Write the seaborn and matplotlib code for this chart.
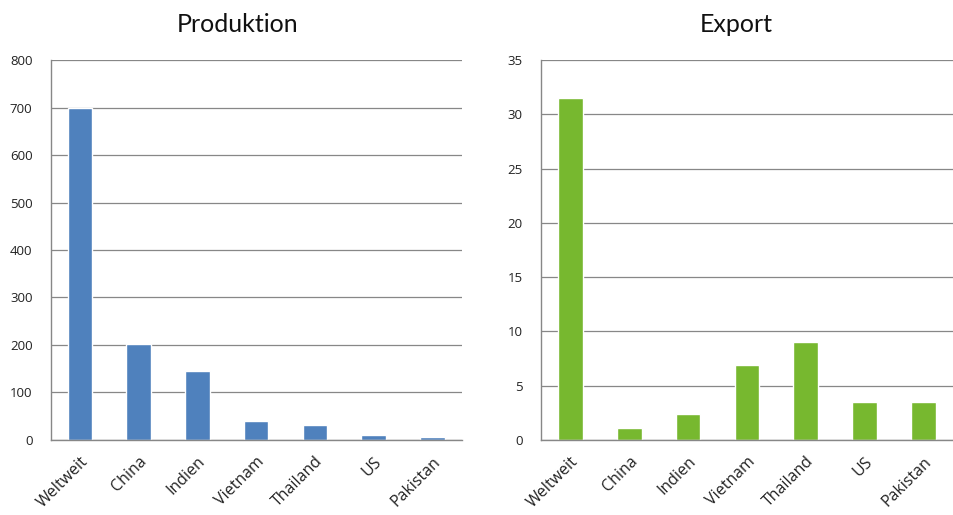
import matplotlib
matplotlib.use("Agg")
import matplotlib.pyplot as plt
import numpy as np
import pandas as pd
import seaborn as sns

# Werte
laender = ["Weltweit", "China", "Indien", "Vietnam", "Thailand", "US", "Pakistan"]
produktion = [700, 201, 145, 40, 32, 10, 5]
export = [31.5, 1.1, 2.4, 6.9, 9.0, 3.5, 3.5]

prod_ticks = np.arange(0, 801, 100)
exp_ticks = np.arange(0, 36, 5)

sns.set_theme(style="white")
plt.rcParams['font.family'] = ['Open Sans', 'DejaVu Sans']

grey = "#878787"


def style_axis(ax, yticks, title, title_x):
    ax.set_ylim(yticks[0], yticks[-1])
    ax.set_yticks(yticks)
    ax.set_xlim(-0.5, len(laender) - 0.5)
    ax.yaxis.grid(True, color=grey, linewidth=0.9)
    ax.set_axisbelow(True)
    for side in ("top", "right"):
        ax.spines[side].set_visible(False)
    for side in ("left", "bottom"):
        ax.spines[side].set_color(grey)
        ax.spines[side].set_linewidth(1.0)
    ax.tick_params(axis="y", which="major", direction="out", length=5,
                   color=grey, labelsize=9.5, pad=8, labelcolor="#222222")
    # Striche zwischen den Kategorien wie in Excel
    ax.set_xticks(np.arange(-0.5, len(laender), 1.0), minor=True)
    ax.tick_params(axis="x", which="minor", direction="out", length=5,
                   color=grey, width=1.0)
    ax.tick_params(axis="x", which="major", length=0, labelsize=11.5,
                   pad=10, labelcolor="#222222")
    for lab in ax.get_xticklabels():
        lab.set_rotation(45)
        lab.set_ha("right")
        lab.set_rotation_mode("anchor")
    ax.set_xlabel("")
    ax.set_ylabel("")
    ax.set_title(title, fontsize=18, pad=20, color="#111111", x=title_x,
                 family=["Lato", "DejaVu Sans"])


fig = plt.figure(figsize=(9.54, 5.15), dpi=100)
ax1 = fig.add_axes([0.053, 0.146, 0.431, 0.737])
ax2 = fig.add_axes([0.567, 0.146, 0.432, 0.737])

df = pd.DataFrame({"Land": laender, "Produktion": produktion, "Export": export})

sns.barplot(data=df, x="Land", y="Produktion", color="#4F81BD",
            saturation=1, width=0.42, ax=ax1)
sns.barplot(data=df, x="Land", y="Export", color="#77B82F",
            saturation=1, width=0.42, ax=ax2)

style_axis(ax1, prod_ticks, "Produktion", 0.455)
style_axis(ax2, exp_ticks, "Export", 0.473)

fig.savefig("out.png", dpi=100, facecolor="white")
